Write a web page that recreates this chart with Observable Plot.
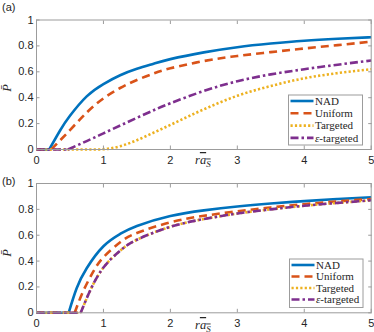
<!DOCTYPE html>
<html>
<head>
<meta charset="utf-8">
<script src="https://cdn.jsdelivr.net/npm/d3@7"></script>
<script src="https://cdn.jsdelivr.net/npm/@observablehq/plot@0.6"></script>
<style>
  html, body { margin: 0; padding: 0; background: white; }
  #chart { position: relative; width: 374px; height: 332px; overflow: hidden; background: white; }
  #chart svg { display: block; overflow: visible; }
</style>
</head>
<body>
<div id="chart"></div>
<script>
// ---------- data ----------
const xTicks = [0, 1, 2, 3, 4, 5];
const yTicks = [0, 0.2, 0.4, 0.6, 0.8, 1];
const seriesNames = ["NAD", "Uniform", "Targeted", "ε-targeted"];
const panelLabels = ["(a)", "(b)"];

// panel (a)
const aNadX = [0, 0.19, 0.35, 0.5, 0.75, 1, 1.25, 1.5, 1.75, 2, 2.5, 3, 3.5, 4, 4.5, 5];
const aNadY = [0, 0, 0.145, 0.26, 0.41, 0.505, 0.573, 0.623, 0.663, 0.698, 0.75, 0.79, 0.818, 0.84, 0.855, 0.867];
const aUniX = [0, 0.22, 0.5, 0.75, 1, 1.25, 1.5, 1.75, 2, 2.5, 3, 3.5, 4, 4.5, 5];
const aUniY = [0, 0, 0.15, 0.285, 0.395, 0.475, 0.537, 0.587, 0.627, 0.683, 0.722, 0.752, 0.78, 0.806, 0.833];
const aTarX = [0, 0.9, 1.1, 1.25, 1.5, 1.75, 2, 2.5, 3, 3.5, 4, 4.5, 5];
const aTarY = [0, 0, 0.008, 0.025, 0.072, 0.13, 0.19, 0.31, 0.415, 0.49, 0.55, 0.59, 0.62];
const aEpsX = [0, 0.47, 0.75, 1, 1.25, 1.5, 1.75, 2, 2.5, 3, 3.5, 4, 4.5, 5];
const aEpsY = [0, 0, 0.065, 0.125, 0.185, 0.245, 0.303, 0.357, 0.452, 0.527, 0.58, 0.62, 0.655, 0.687];

// panel (b)
const bNadX = [0, 0.48, 0.6, 0.75, 1, 1.25, 1.5, 2, 2.5, 3, 3.5, 4, 4.5, 5];
const bNadY = [0, 0, 0.19, 0.345, 0.515, 0.61, 0.672, 0.748, 0.792, 0.822, 0.845, 0.864, 0.88, 0.894];
const bUniX = [0, 0.57, 0.7, 0.85, 1, 1.25, 1.5, 2, 2.5, 3, 3.5, 4, 4.5, 5];
const bUniY = [0, 0, 0.17, 0.32, 0.43, 0.545, 0.617, 0.70, 0.75, 0.785, 0.815, 0.84, 0.862, 0.88];
const bTarX = [0, 0.66, 0.8, 1, 1.25, 1.5, 2, 2.5, 3, 3.5, 4, 4.5, 5];
const bTarY = [0, 0, 0.17, 0.35, 0.48, 0.565, 0.665, 0.725, 0.768, 0.80, 0.828, 0.85, 0.87];
const bEpsX = [0, 0.66, 0.8, 1, 1.25, 1.5, 2, 2.5, 3, 3.5, 4, 4.5, 5];
const bEpsY = [0, 0, 0.17, 0.35, 0.48, 0.565, 0.665, 0.725, 0.768, 0.80, 0.828, 0.85, 0.87];

// ---------- styles ----------
const styles = {
  "NAD":        {stroke: "#0072BD", dash: null,        width: 2.6},
  "Uniform":    {stroke: "#D95319", dash: "8,5",       width: 2.6},
  "Targeted":   {stroke: "#EDB120", dash: "2.2,2.2",   width: 2.6},
  "ε-targeted": {stroke: "#7E2F8E", dash: "8,3,2.5,3", width: 2.6}
};

// split into flat part (until last zero) and rising part so a sharp onset keeps its kink
function toRows(name, xs, ys, split) {
  let last = 0;
  for (let i = 0; i < ys.length; i++) if (ys[i] === 0) last = i;
  if (!split) return xs.map((x, i) => ({name, x, y: ys[i], seg: 0}));
  return xs.map((x, i) => ({name, x, y: ys[i], seg: i <= last ? 0 : 1}))
    .flatMap((d, i) => i === last ? [{...d, seg: 0}, {...d, seg: 1}] : [d]);
}

const AXIS = "#9c9c9c";
const TEXT = "#262626";
const SANS = "'Liberation Sans', Arial, sans-serif";
const SERIF = "'Liberation Serif', 'Times New Roman', serif";

function panel(label, series, m) {
  const lineMarks = [];
  series.forEach(([n, xs, ys]) => {
    const split = !m.smoothOnset.includes(n);
    const rows = toRows(n, xs, ys, split);
    const st = {stroke: styles[n].stroke, strokeWidth: styles[n].width,
                strokeDasharray: styles[n].dash, strokeLinecap: "butt", strokeLinejoin: "round"};
    if (split) {
      const flat = rows.filter(d => d.seg === 0), rise = rows.filter(d => d.seg === 1);
      // draw as one path-like sequence: flat part linear, rising part natural spline
      lineMarks.push(Plot.line(flat, {x: "x", y: "y", curve: "linear", ...st}));
      lineMarks.push(Plot.line(rise, {x: "x", y: "y", curve: "natural", ...st}));
    } else {
      lineMarks.push(Plot.line(rows, {x: "x", y: "y", curve: "monotone-x", ...st}));
    }
  });
  const svg = Plot.plot({
    width: 374, height: 166,
    marginTop: m.top, marginBottom: m.bottom, marginLeft: 36, marginRight: 3.3,
    style: {fontFamily: SANS, fontSize: "11px", background: "transparent", color: TEXT, overflow: "visible"},
    x: {domain: [0, 5]},
    y: {domain: [0, 1]},
    marks: [
      ...lineMarks,
      Plot.frame({stroke: AXIS, strokeWidth: 1}),
      Plot.axisX(xTicks, {tickSize: -3.5, tickPadding: m.xPad, stroke: AXIS, fill: TEXT, label: null, fontSize: 11}),
      Plot.axisX(xTicks, {anchor: "top", tickSize: -3.5, tickFormat: () => "", stroke: AXIS, label: null}),
      Plot.axisY(yTicks, {tickSize: -3.5, tickPadding: 6.5, stroke: AXIS, fill: TEXT, label: null, tickFormat: d => String(d), fontSize: 11}),
      Plot.axisY(yTicks, {anchor: "right", tickSize: -3.5, tickFormat: () => "", stroke: AXIS, label: null})
    ]
  });
  const s = d3.select(svg);
  // panel label
  s.append("text").attr("x", 2).attr("y", m.labelY).attr("font-size", 11)
    .attr("text-anchor", "start")
    .attr("font-family", SANS).attr("fill", TEXT).text(label);
  // y label  P̄
  s.append("text")
    .attr("transform", `translate(${m.yLabX},${m.yLabY}) rotate(-90)`)
    .attr("text-anchor", "middle").attr("font-family", SERIF)
    .attr("font-style", "italic").attr("font-size", 12.5).attr("fill", TEXT).text("P\u0304");
  // x label  r a_S with overline
  const xl = s.append("text").attr("x", m.xLabX).attr("y", m.xLabY)
    .attr("text-anchor", "start")
    .attr("font-family", SERIF)
    .attr("font-style", "italic").attr("font-size", 12.5).attr("fill", TEXT);
  xl.append("tspan").text("r");
  const ov = xl.append("tspan").attr("text-decoration", "overline");
  ov.append("tspan").text("a");
  ov.append("tspan").attr("font-size", 9).attr("dy", 2.5).text("S");
  // legend
  const L = m.legend;
  const g = s.append("g").attr("text-anchor", "start");
  g.append("rect").attr("x", L.x).attr("y", L.y).attr("width", L.w).attr("height", L.h)
    .attr("fill", "white").attr("stroke", AXIS).attr("stroke-width", 1);
  seriesNames.forEach((n, i) => {
    const yy = L.y + L.first + i * L.step;
    g.append("line").attr("x1", L.x + 2).attr("x2", L.x + 25).attr("y1", yy).attr("y2", yy)
      .attr("stroke", styles[n].stroke).attr("stroke-width", styles[n].width)
      .attr("stroke-dasharray", styles[n].dash);
    const t = g.append("text").attr("x", L.x + 26.5).attr("y", yy).attr("dy", "0.35em")
      .attr("font-family", SERIF).attr("font-size", 11)
      .attr("fill", TEXT);
    if (n === "ε-targeted") {
      t.append("tspan").attr("font-style", "italic").text("ε");
      t.append("tspan").text("-targeted");
    } else t.text(n);
  });
  return svg;
}

const chart = document.getElementById("chart");
chart.append(panel(panelLabels[0], [
  ["NAD", aNadX, aNadY], ["Uniform", aUniX, aUniY], ["Targeted", aTarX, aTarY], ["ε-targeted", aEpsX, aEpsY]
], {top: 19.5, bottom: 17, xPad: 10.5, labelY: 11, yLabX: 11, yLabY: 88, xLabX: 195, xLabY: 164,
    smoothOnset: ["Targeted"],
    legend: {x: 288.5, y: 95, w: 74, h: 50, first: 6, step: 12.3}}));
chart.append(panel(panelLabels[1], [
  ["NAD", bNadX, bNadY], ["Uniform", bUniX, bUniY], ["Targeted", bTarX, bTarY], ["ε-targeted", bEpsX, bEpsY]
], {top: 17, bottom: 19.7, xPad: 9.5, labelY: 18.5, yLabX: 11, yLabY: 87, xLabX: 195, xLabY: 163,
    smoothOnset: [],
    legend: {x: 289.5, y: 93, w: 73.5, h: 48.5, first: 6, step: 11.5}}));
</script>
</body>
</html>
